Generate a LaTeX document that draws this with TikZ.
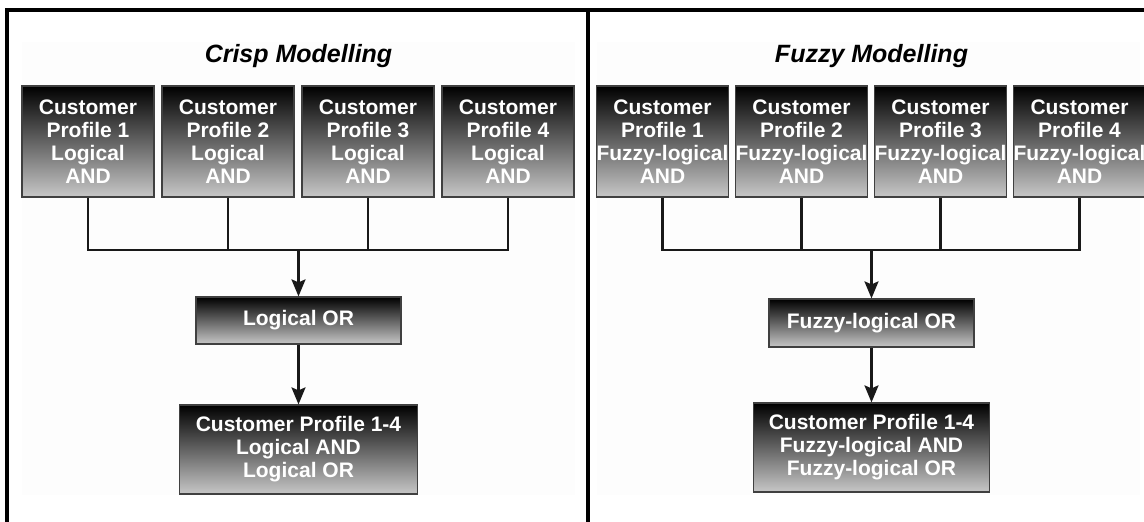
\documentclass[tikz,border=0pt]{standalone}
\usepackage{fontspec}
\setmainfont{Liberation Sans}
\usetikzlibrary{arrows.meta}
\usetikzlibrary{positioning}

\tikzset{
  profbox/.style={draw=black!75, line width=1.2pt, top color=black, bottom color=black!22,
    text=white, font=\bfseries\fontsize{21}{23}\selectfont, align=center, inner sep=0pt},
  link/.style={line width=2.4pt, black!90},
  paneltitle/.style={font=\bfseries\itshape\fontsize{25}{30}\selectfont, anchor=base},
  >={Stealth[length=17pt,width=14pt,inset=3pt]}
}

\begin{document}
\begin{tikzpicture} [x=1pt,y=-1pt]
\useasboundingbox (0,0) rectangle (1144,522);
% faint panel backgrounds
\fill[black!0.6] (22,42) rectangle (575,495);
\fill[black!0.6] (597,42) rectangle (1140,495);
% frame
\draw[line width=4pt] (7,522) -- (7,9.5) -- (1144,9.5);
\draw[line width=4pt] (588,9.5) -- (588,522);

% crisp side
\node[paneltitle] (ctitle) at (298.5,62) {Crisp Modelling};
\foreach \i/\x in {1/88,2/228,3/368,4/508}
 \node[profbox, minimum width=132pt, minimum height=111pt] (c\i) at (\x,141.5) {Customer\\Profile \i\\Logical\\AND};
\node[profbox, minimum width=205pt, minimum height=47pt] (cor) at (298.5,320.5) {Logical OR};
\node[profbox, minimum width=238pt, minimum height=89pt] (cfin) at (298.5,449.5) {Customer Profile 1-4\\Logical AND\\Logical OR};
\coordinate (cbus) at (298.5,250);
\foreach \i in {1,...,4}
 \draw[link] (c\i.south) |- (cbus);
\draw[link, ->] (cbus) -- (cor);
\draw[link, ->] (cor) -- (cfin);

% fuzzy side
\node[paneltitle] (ftitle) at (871.5,62) {Fuzzy Modelling};
\foreach \i/\x in {1/662.5,2/801.5,3/940.5,4/1079.5}
 \node[profbox, minimum width=131pt, minimum height=111pt] (f\i) at (\x,141.5) {Customer\\Profile \i\\Fuzzy-logical\\AND};
\node[profbox, minimum width=205pt, minimum height=48pt] (for) at (871.5,323) {Fuzzy-logical OR};
\node[profbox, minimum width=236pt, minimum height=89pt] (ffin) at (871.5,447.5) {Customer Profile 1-4\\Fuzzy-logical AND\\Fuzzy-logical OR};
\coordinate (fbus) at (871.5,250);
\foreach \i in {1,...,4}
 \draw[link] (f\i.south) |- (fbus);
\draw[link, ->] (fbus) -- (for);
\draw[link, ->] (for) -- (ffin);
\end{tikzpicture}
\end{document}
